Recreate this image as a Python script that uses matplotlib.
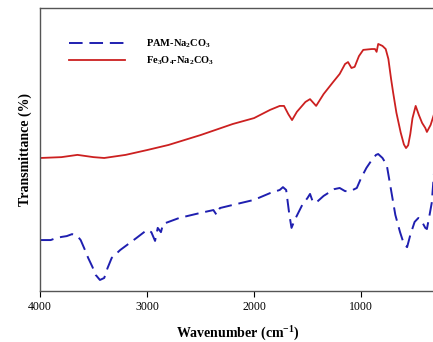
import numpy as np
import matplotlib
matplotlib.use('Agg')
from matplotlib import pyplot as plt

plt.rcParams['font.family'] = 'Liberation Serif'
plt.rcParams['mathtext.fontset'] = 'custom'
plt.rcParams['mathtext.rm'] = 'Liberation Serif:bold'
plt.rcParams['mathtext.it'] = 'Liberation Serif:bold'
plt.rcParams['mathtext.default'] = 'rm'

# Fe3O4-Na2CO3 (red, solid)
wn_fe = [4000, 3800, 3650, 3500, 3400, 3200, 3000, 2800, 2500, 2200, 2000, 1850,
         1760, 1720, 1680, 1645, 1600, 1520, 1477, 1420, 1350, 1260, 1200, 1150,
         1122, 1090, 1060, 1020, 980, 900, 870, 855, 840, 800, 770, 745, 720, 700,
         670, 630, 600, 580, 560, 540, 520, 490, 460, 430, 400, 385, 350, 330, 300]
t_fe = [47.0, 47.3, 48.1, 47.3, 47.0, 48.1, 49.8, 51.6, 55.1, 59.0, 61.1, 64.0,
        65.4, 65.4, 62.5, 60.4, 63.3, 66.8, 67.8, 65.4, 69.6, 73.9, 76.7, 80.2,
        80.9, 78.8, 79.2, 83.0, 85.2, 85.5, 85.5, 84.5, 87.3, 86.6, 85.5, 82.0, 75.0, 70.0,
        63.0, 56.0, 51.8, 50.5, 51.5, 55.5, 61.0, 65.4, 62.2, 59.4, 57.6, 56.2, 58.7, 61.1, 64.7]

# PAM-Na2CO3 (blue, dashed)
wn_pam = [4000, 3900, 3850, 3800, 3750, 3700, 3650, 3620, 3580, 3550, 3510, 3480, 3440, 3400,
          3370, 3330, 3250, 3100, 3000, 2960, 2925, 2900, 2870, 2850, 2700, 2500, 2380,
          2350, 2320, 2200, 2000, 1850, 1760, 1730, 1700, 1670, 1650, 1620, 1550,
          1500, 1477, 1450, 1415, 1350, 1250, 1200, 1150, 1100, 1040, 1000, 950,
          900, 860, 840, 800, 760, 720, 680, 636, 600, 570, 540, 500, 465, 430,
          400, 385, 360, 340, 320, 300]
t_pam = [18.0, 18.0, 18.7, 19.1, 19.4, 20.1, 19.4, 18.0, 14.5, 11.7, 8.5, 5.7, 3.9, 4.6,
         8.0, 11.7, 14.5, 18.7, 21.6, 20.8, 17.7, 22.3, 20.8, 23.7, 25.8, 27.6, 28.6,
         26.9, 29.3, 30.4, 32.2, 34.6, 35.7, 36.7, 35.7, 26.9, 22.3, 25.1, 30.4,
         32.9, 34.3, 31.4, 31.4, 33.6, 36.0, 36.4, 35.3, 35.3, 36.4, 39.9, 43.5,
         46.3, 48.1, 48.4, 47.0, 44.5, 35.7, 26.9, 20.8, 16.6, 15.5, 19.8, 24.4, 25.8, 24.4,
         22.3, 21.9, 26.9, 31.1, 41.0, 49.8]

xticks = [4000, 3000, 2000, 1000]

fig = plt.figure(figsize=(4.33, 3.42), dpi=100)
ax = fig.add_axes([40/433, 51/342, 396/433, 283/342])

ax.plot(wn_pam, t_pam, color='#1f1fb0', lw=1.4, dashes=(7, 3.5),
        label='PAM-Na$_2$CO$_3$')
ax.plot(wn_fe, t_fe, color='#cc2020', lw=1.3, label='Fe$_3$O$_4$-Na$_2$CO$_3$')

ax.set_xlim(4000, 300)
ax.set_ylim(0, 100)
ax.set_xticks(xticks)
ax.set_xticklabels([str(t) for t in xticks], fontsize=8.5)
ax.set_yticks([])
ax.tick_params(axis='x', direction='out', length=4, width=0.8)
for s in ax.spines.values():
    s.set_color('#555555')
    s.set_linewidth(1.0)

ax.set_xlabel('Wavenumber (cm$^{-1}$)', fontsize=10, fontweight='bold', labelpad=8)
ax.set_ylabel('Transmittance (%)', fontsize=10, fontweight='bold', labelpad=6)

ax.legend(loc='upper left', bbox_to_anchor=(0.05, 0.93), frameon=False,
          prop={'weight': 'bold', 'size': 7.5}, handlelength=5.4, handletextpad=2.0,
          labelspacing=0.5)

fig.savefig('out.png', dpi=100)
